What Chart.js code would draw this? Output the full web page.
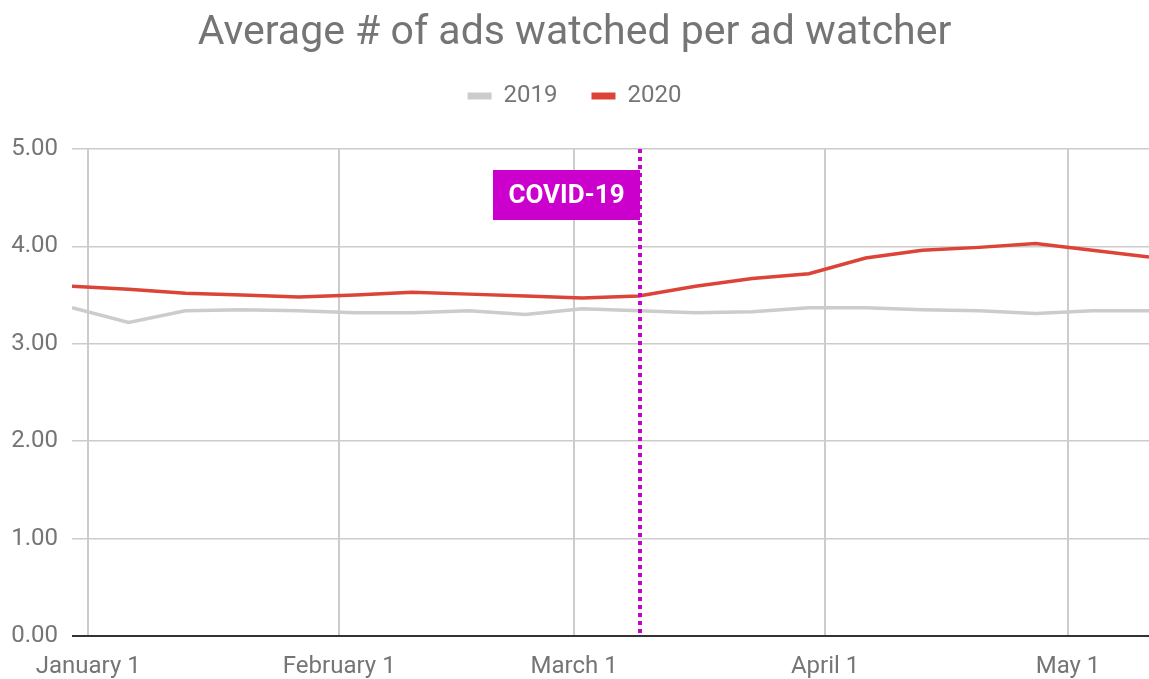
<!DOCTYPE html>
<html>
<head>
<meta charset="utf-8">
<script src="https://cdn.jsdelivr.net/npm/chart.js@4"></script>
<style>
  body { margin: 0; background: #ffffff; }
  #wrap { width: 1149px; height: 679px; position: relative; }
</style>
</head>
<body>
<div id="wrap"><canvas id="ads-chart"></canvas></div>
<script>
// weekly points (Mondays)
const weekDates = ['2019-12-30', '2020-01-06', '2020-01-13', '2020-01-20', '2020-01-27',
    '2020-02-03', '2020-02-10', '2020-02-17', '2020-02-24', '2020-03-02',
    '2020-03-09', '2020-03-16', '2020-03-23', '2020-03-30', '2020-04-06',
    '2020-04-13', '2020-04-20', '2020-04-27', '2020-05-04', '2020-05-11'];
const ads2019 = [3.37, 3.22, 3.34, 3.35, 3.34, 3.32, 3.32, 3.34, 3.30, 3.36,
    3.34, 3.32, 3.33, 3.37, 3.37, 3.35, 3.34, 3.31, 3.34, 3.34];
const ads2020 = [3.59, 3.56, 3.52, 3.50, 3.48, 3.50, 3.53, 3.51, 3.49, 3.47,
    3.49, 3.59, 3.67, 3.72, 3.88, 3.96, 3.99, 4.03, 3.96, 3.89];
const tickDates = ['2020-01-01', '2020-02-01', '2020-03-01', '2020-04-01', '2020-05-01'];
const tickLabels = ['January 1', 'February 1', 'March 1', 'April 1', 'May 1'];
const yTicks = [0, 1, 2, 3, 4, 5];
const covidDate = '2020-03-09';
const covidLabel = 'COVID-19';

const FONT = 'Roboto';
const TEXT_GREY = '#757575';

// days since Jan 1 2020
function dayNum(s) {
    const p = s.split('-').map(Number);
    return (Date.UTC(p[0], p[1] - 1, p[2]) - Date.UTC(2020, 0, 1)) / 86400000;
}

const xDays = weekDates.map(dayNum);
const tickDays = tickDates.map(dayNum);

// dotted covid marker + label box
const covidMarker = {
    id: 'covidMarker',
    afterDatasetsDraw(chart) {
        const ctx = chart.ctx;
        const area = chart.chartArea;
        const x = Math.round(chart.scales.x.getPixelForValue(dayNum(covidDate)) + 1);

        ctx.save();
        ctx.strokeStyle = '#cc00cc';
        ctx.lineWidth = 4;
        ctx.setLineDash([4, 4]);
        ctx.beginPath();
        ctx.moveTo(x, area.top);
        ctx.lineTo(x, area.bottom);
        ctx.stroke();
        ctx.setLineDash([]);

        const w = 147, h = 50;
        ctx.fillStyle = '#cc00cc';
        ctx.fillRect(x - w, area.top + 21, w, h);
        ctx.fillStyle = '#ffffff';
        ctx.font = 'bold 26px ' + FONT;
        ctx.textAlign = 'center';
        ctx.textBaseline = 'middle';
        ctx.fillText(covidLabel, x - w / 2, area.top + 21 + h / 2 + 1);
        ctx.restore();
    }
};

function makeSeries(values) {
    return values.map((v, i) => ({ x: xDays[i], y: v }));
}

function renderChart() {
    const ctx = document.getElementById('ads-chart').getContext('2d');
    new Chart(ctx, {
        type: 'line',
        data: {
            datasets: [{
                label: '2019',
                data: makeSeries(ads2019),
                borderColor: '#cccccc',
                backgroundColor: '#cccccc',
                borderWidth: 3.5,
                pointRadius: 0,
                tension: 0
            }, {
                label: '2020',
                data: makeSeries(ads2020),
                borderColor: '#db4437',
                backgroundColor: '#db4437',
                borderWidth: 3.5,
                pointRadius: 0,
                tension: 0
            }]
        },
        options: {
            responsive: true,
            maintainAspectRatio: false,
            animation: false,
            layout: { padding: 0 },
            scales: {
                x: {
                    type: 'linear',
                    min: xDays[0],
                    max: xDays[xDays.length - 1],
                    afterBuildTicks: (scale) => {
                        scale.ticks = tickDays.map(v => ({ value: v }));
                    },
                    afterFit: (scale) => { scale.height = 43; },
                    ticks: {
                        autoSkip: false,
                        maxRotation: 0,
                        padding: 17,
                        color: TEXT_GREY,
                        font: { family: FONT, size: 24 },
                        callback: (v) => tickLabels[tickDays.indexOf(v)]
                    },
                    grid: { color: '#cccccc', lineWidth: 2, drawTicks: false },
                    border: { display: false }
                },
                y: {
                    min: 0,
                    max: 5,
                    afterBuildTicks: (scale) => {
                        scale.ticks = yTicks.map(v => ({ value: v }));
                    },
                    afterFit: (scale) => { scale.width = 72; },
                    ticks: {
                        padding: 14,
                        color: TEXT_GREY,
                        font: { family: FONT, size: 24 },
                        callback: (v) => v.toFixed(2)
                    },
                    grid: {
                        color: (c) => c.tick && c.tick.value === 0 ? '#333333' : '#cccccc',
                        lineWidth: (c) => c.tick && c.tick.value === 0 ? 2 : 1.5,
                        drawTicks: false
                    },
                    border: { display: false }
                }
            },
            plugins: {
                title: {
                    display: true,
                    text: 'Average # of ads watched per ad watcher',
                    color: TEXT_GREY,
                    font: { family: FONT, size: 41, weight: 'normal', lineHeight: 0.7 },
                    padding: { top: 19, bottom: 2.3 }
                },
                legend: {
                    display: true,
                    labels: {
                        boxWidth: 24,
                        boxHeight: 7,
                        padding: 34,
                        color: TEXT_GREY,
                        font: { family: FONT, size: 24 },
                        generateLabels: (chart) => {
                            const items = Chart.defaults.plugins.legend.labels.generateLabels(chart);
                            items.forEach(it => { it.lineWidth = 0; });
                            return items;
                        }
                    }
                },
                // empty block used as spacing between legend and plot
                subtitle: {
                    display: true,
                    text: '',
                    weight: 500,
                    font: { size: 31, lineHeight: 1 },
                    padding: 0
                },
                tooltip: { enabled: false }
            }
        },
        plugins: [covidMarker]
    });
}

document.addEventListener('DOMContentLoaded', renderChart);
</script>
</body>
</html>
